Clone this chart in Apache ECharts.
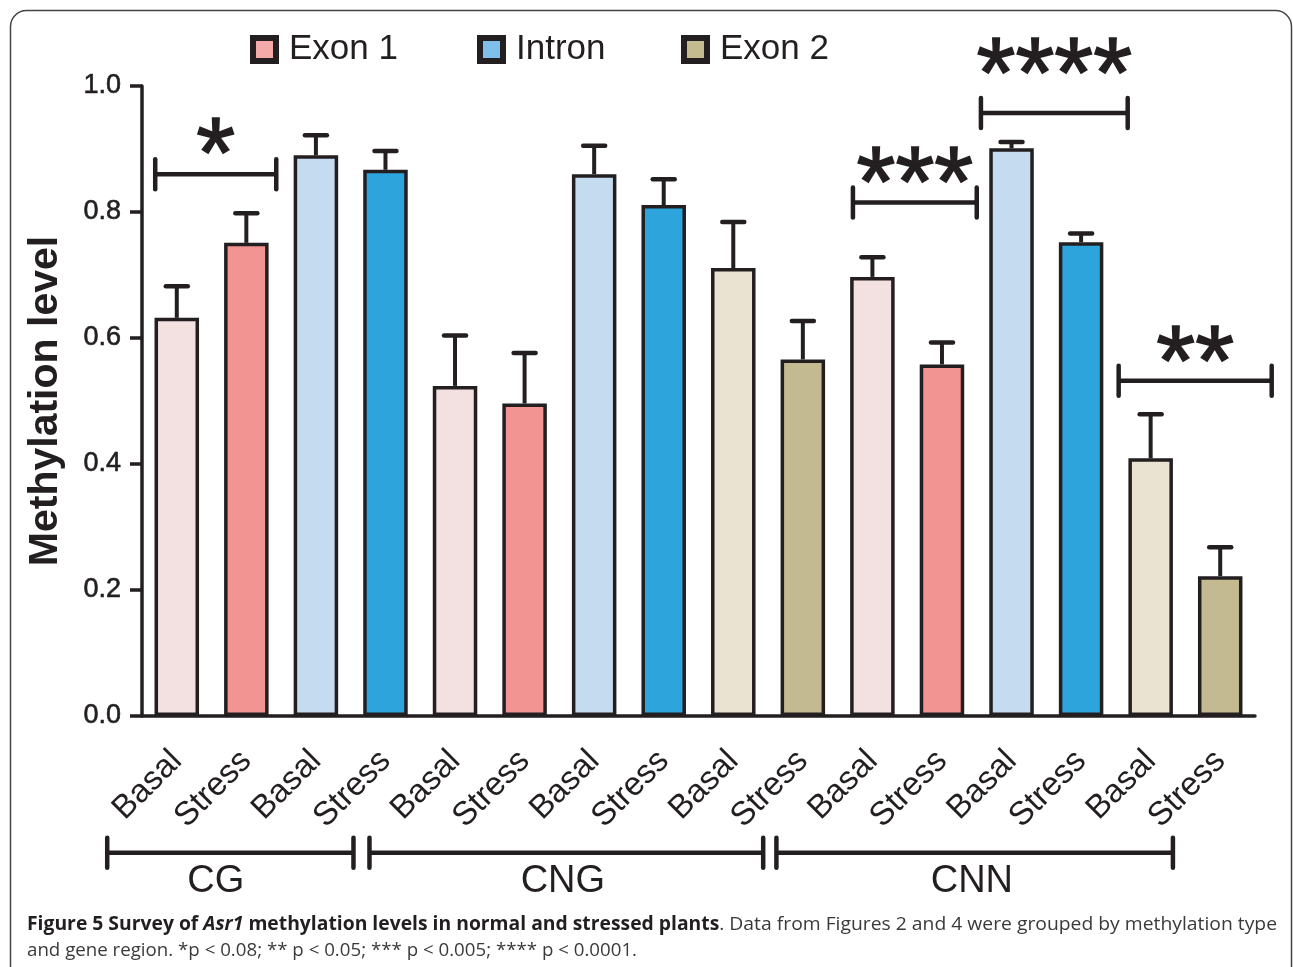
<!DOCTYPE html>
<html><head><meta charset="utf-8">
<script src="https://cdn.jsdelivr.net/npm/echarts@6/dist/echarts.min.js"></script>
<style>html,body{margin:0;padding:0;background:#fff}#c{width:1293px;height:967px}</style>
</head><body><div id="c"></div>
<script>
// ---------- data ----------
const categories = ['Basal','Stress','Basal','Stress','Basal','Stress','Basal','Stress','Basal','Stress','Basal','Stress','Basal','Stress','Basal','Stress'];
const regions = ['Exon 1','Exon 1','Intron','Intron','Exon 1','Exon 1','Intron','Intron','Exon 2','Exon 2','Exon 1','Exon 1','Intron','Intron','Exon 2','Exon 2'];
const methylationLevel = [0.632,0.751,0.890,0.867,0.524,0.496,0.860,0.811,0.711,0.566,0.697,0.558,0.901,0.752,0.409,0.222];
const sem = [0.050,0.047,0.032,0.030,0.080,0.080,0.045,0.041,0.073,0.061,0.031,0.035,0.010,0.014,0.070,0.046];
const yTicks = [0, 0.2, 0.4, 0.6, 0.8, 1.0];
const legendNames = ['Exon 1','Intron','Exon 2'];
// significance brackets (x in category units, y in methylation level)
const sigLabels = ['*','***','****','**'];
const sigStart = [0.19, 10.22, 12.06, 14.04];
const sigEnd = [1.93, 12.00, 14.17, 16.24];
const sigLevel = [0.860, 0.815, 0.957, 0.532];
const sigLabelLevel = [0.883, 0.837, 1.011, 0.554];
// methylation-type groups
const groupLabels = ['CG','CNG','CNN'];
const groupStart = [-0.50, 3.27, 9.12];
const groupEnd = [3.04, 8.93, 14.82];
const groupLevel = [-0.217, -0.217, -0.217];
const groupLabelPos = [1.06, 6.05, 11.93];
const groupLabelLevel = [-0.262, -0.262, -0.262];

// ---------- style ----------
const INK = '#231f20';
const legendColor = {'Exon 1':'#f4aaa9','Intron':'#7fc0ea','Exon 2':'#c4bb90'};
const barColor = {
  'Exon 1': {Basal:'#f3e1e2', Stress:'#f29592'},
  'Intron': {Basal:'#c4dbf0', Stress:'#2ea4dd'},
  'Exon 2': {Basal:'#ebe3d1', Stress:'#c4ba92'}
};
const SANS = '"Liberation Sans", Arial, sans-serif';

const barSeries = legendNames.map(name => ({
  name, type:'bar', barWidth:44.5, barGap:'-100%',
  itemStyle:{color:legendColor[name], borderColor:INK, borderWidth:3.5},
  data: methylationLevel.map((v,i) => regions[i] === name
    ? {value:v, itemStyle:{color:barColor[name][categories[i]]}} : '-'),
  z:2
}));

const errorSeries = {
  type:'custom', xAxisIndex:0, yAxisIndex:0, z:3,
  data: methylationLevel.map((v,i)=>[i, v, v + sem[i]]),
  renderItem(params, api){
    const b = api.coord([api.value(0), api.value(1)]);
    const t = api.coord([api.value(0), api.value(2)]);
    return {type:'group', children:[
      {type:'line', shape:{x1:b[0],y1:b[1],x2:t[0],y2:t[1]}, style:{stroke:INK,lineWidth:4}},
      {type:'line', shape:{x1:t[0]-11,y1:t[1],x2:t[0]+11,y2:t[1]}, style:{stroke:INK,lineWidth:4.5,lineCap:'round'}}
    ]};
  }
};

function bracketSeries(labels, s, e, lv, lx, ly, fontSize, capH, stroke){
  return {
    type:'custom', xAxisIndex:1, yAxisIndex:0, z:4, clip:false, silent:true,
    data: labels.map((l,i)=>[s[i], e[i], lv[i], lx[i], ly[i]]),
    renderItem(params, api){
      const p1 = api.coord([api.value(0), api.value(2)]);
      const p2 = api.coord([api.value(1), api.value(2)]);
      const pt = api.coord([api.value(3), api.value(4)]);
      const st = {stroke:INK, lineWidth:4.5, lineCap:'round'};
      return {type:'group', children:[
        {type:'line', shape:{x1:p1[0],y1:p1[1],x2:p2[0],y2:p2[1]}, style:{stroke:INK,lineWidth:4.5}},
        {type:'line', shape:{x1:p1[0],y1:p1[1]-capH,x2:p1[0],y2:p1[1]+capH}, style:st},
        {type:'line', shape:{x1:p2[0],y1:p2[1]-capH,x2:p2[0],y2:p2[1]+capH}, style:st},
        {type:'text', x:pt[0], y:pt[1], style:{text:labels[params.dataIndex], fill:INK,
          stroke:INK, lineWidth:stroke,
          font: fontSize + 'px ' + SANS, textAlign:'center', textVerticalAlign:'middle'}}
      ]};
    }
  };
}

// caption fitted by measuring
const cv = document.createElement('canvas').getContext('2d');
const CAP = 19;
const capFonts = {
  b: 'bold ' + CAP + 'px "Open Sans"',
  bi: 'italic bold ' + CAP + 'px "Open Sans"',
  r: CAP + 'px "Open Sans"'
};
function mw(segs){ return segs.reduce((a,[k,t])=>{cv.font=capFonts[k]; return a+cv.measureText(t).width;},0); }
const line1 = [['b','Figure 5 Survey of '],['bi','Asr1'],['b',' methylation levels in normal and stressed plants'],['r','. Data from Figures 2 and 4 were grouped by methylation type']];
const line2 = [['r','and gene region. *p < 0.08; ** p < 0.05; *** p < 0.005; **** p < 0.0001.']];
const s1 = 1250 / mw(line1), s2 = 610 / mw(line2);
const rich = {
  b:{font:capFonts.b, fill:INK}, bi:{font:capFonts.bi, fill:INK}, r:{font:capFonts.r, fill:'#3a3a3a'}
};
const toRich = segs => segs.map(([k,t])=>'{'+k+'|'+t+'}').join('');

const chart = echarts.init(document.getElementById('c'), null, {renderer:'canvas'});
chart.setOption({
  backgroundColor:'#fff',
  animation:false,
  grid:{left:142, right:38, top:86, bottom:251, containLabel:false, outerBoundsMode:'none'},
  legend: legendNames.map((n,i)=>({
    data:[n], top:27, left:[245,472,676][i], itemWidth:23, itemHeight:23, icon:'rect',
    itemStyle:{borderColor:INK, borderWidth:6},
    textStyle:{fontFamily:SANS, fontSize:35, color:INK, padding:[0,0,0,8]},
    selectedMode:false
  })),
  xAxis:[{
    type:'category', data:categories, gridIndex:0,
    axisLine:{lineStyle:{color:INK, width:3.5}},
    axisTick:{alignWithLabel:true, length:14, lineStyle:{color:INK, width:3.5}},
    axisLabel:{interval:0, rotate:45, margin:40, fontFamily:SANS, fontSize:33, color:INK}
  },{
    type:'value', min:0, max:16, show:false, gridIndex:0
  }],
  yAxis:{
    type:'value', min:yTicks[0], max:yTicks[yTicks.length-1], interval:0.2,
    name:'Methylation level', nameLocation:'middle', nameGap:76,
    nameTextStyle:{fontFamily:SANS, fontSize:41, fontWeight:'bold', color:INK},
    axisLine:{show:true, lineStyle:{color:INK, width:3.5}},
    axisTick:{show:true, length:12, lineStyle:{color:INK, width:3.5}},
    splitLine:{show:false},
    axisLabel:{margin:21, fontFamily:SANS, fontSize:27, color:INK, textBorderColor:INK, textBorderWidth:0.6, formatter:v=>v.toFixed(1)}
  },
  series:[
    ...barSeries, errorSeries,
    bracketSeries(sigLabels, sigStart, sigEnd, sigLevel, sigStart.map((s,i)=>(s+sigEnd[i])/2), sigLabelLevel, 100, 15, 1.5),
    bracketSeries(groupLabels, groupStart, groupEnd, groupLevel, groupLabelPos, groupLabelLevel, 38, 15, 0)
  ],
  graphic:[
    {type:'rect', shape:{x:10.5, y:10.5, width:1281, height:1010, r:16}, style:{fill:'none', stroke:'#444', lineWidth:1.5}, silent:true},
    {type:'text', x:27, y:925, scaleX:s1, style:{text:toRich(line1), rich, textVerticalAlign:'middle'}},
    {type:'text', x:27, y:951, scaleX:s2, style:{text:toRich(line2), rich, textVerticalAlign:'middle'}}
  ]
});
</script></body></html>
